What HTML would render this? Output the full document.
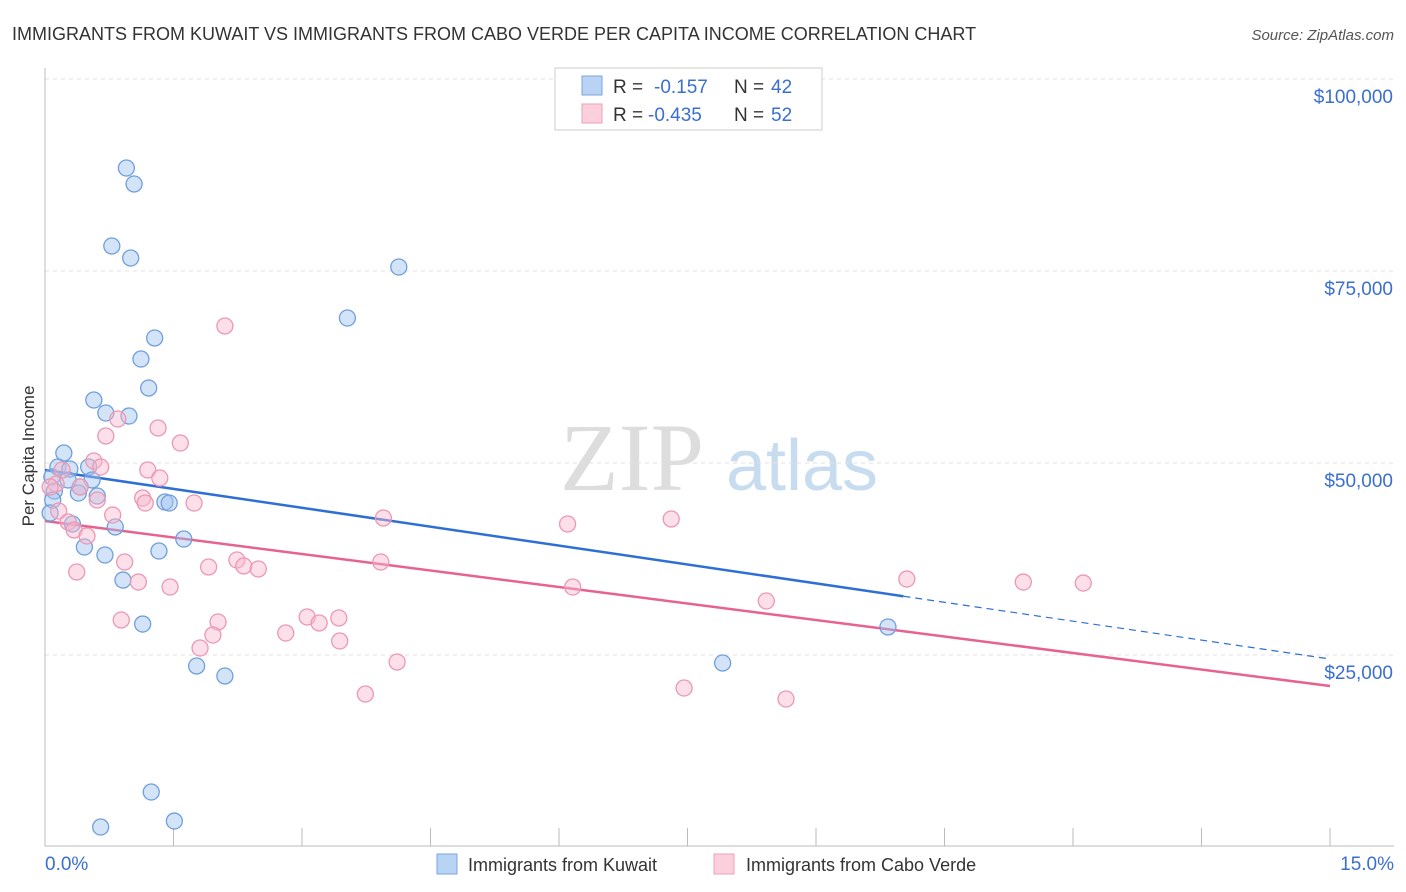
<!DOCTYPE html>
<html><head><meta charset="utf-8"><style>
body{margin:0;background:#fff;font-family:"Liberation Sans",sans-serif;}
svg{display:block}
</style></head><body>
<svg id="chart" width="1406" height="892">
<text x="12" y="40" font-size="18" fill="#333">IMMIGRANTS FROM KUWAIT VS IMMIGRANTS FROM CABO VERDE PER CAPITA INCOME CORRELATION CHART</text>
<text x="1394" y="40" font-size="15" fill="#555" font-style="italic" text-anchor="end">Source: ZipAtlas.com</text>
<text transform="translate(34,456) rotate(-90)" font-size="17" fill="#333" text-anchor="middle">Per Capita Income</text>
<g><text x="632" y="490" font-size="96" font-family="Liberation Serif,serif" fill="#ddd" text-anchor="middle">ZIP</text><text x="802" y="490" font-size="72" fill="#c8dcf0" text-anchor="middle">atlas</text></g>
<g id="grid"></g><g id="axes"></g><g id="lines"></g><g id="pts"></g>
<g>
<rect x="555" y="68" width="267" height="62" fill="#fff" stroke="#ccc"/>
<rect x="582" y="76" width="20" height="19" fill="#b9d3f5" stroke="#7aa6e0"/>
<rect x="582" y="104" width="20" height="19" fill="#fbcfdc" stroke="#eea0b8"/>
<text x="613" y="93" font-size="19" fill="#333">R = </text><text x="654" y="93" font-size="19" fill="#3a6fd0">-0.157</text>
<text x="734" y="93" font-size="19" fill="#333">N = </text><text x="771" y="93" font-size="19" fill="#3a6fd0">42</text>
<text x="613" y="121" font-size="19" fill="#333">R = </text><text x="648" y="121" font-size="19" fill="#3a6fd0">-0.435</text>
<text x="734" y="121" font-size="19" fill="#333">N = </text><text x="771" y="121" font-size="19" fill="#3a6fd0">52</text>
</g>
<g>
<rect x="437" y="854" width="20" height="20" fill="#b9d3f5" stroke="#7aa6e0"/>
<text x="468" y="871" font-size="18" fill="#333">Immigrants from Kuwait</text>
<rect x="714" y="854" width="20" height="20" fill="#fbcfdc" stroke="#eea0b8"/>
<text x="746" y="871" font-size="18" fill="#333">Immigrants from Cabo Verde</text>
</g>
</svg>
<script>
const xTickLabels=["0.0%","15.0%"];
const yTicks=[25000,50000,75000,100000];
const yTickLabels=["$25,000","$50,000","$75,000","$100,000"];
const kuwaitX=[0.95,1.04,0.78,1.00,4.13,3.53,1.28,1.12,1.21,0.57,0.71,0.98,0.22,0.15,0.51,0.29,0.08,0.27,0.55,0.41,0.11,0.61,0.39,1.40,1.45,0.09,0.06,0.32,0.82,1.62,0.46,1.33,0.70,0.91,1.14,9.84,1.77,2.10,7.91,1.24,0.65,1.51];
const kuwaitY=[88410,86330,78260,76690,75520,68880,66280,63540,59770,58200,56510,56120,51300,49480,49480,49220,48180,47790,47790,46880,46350,45700,46090,44920,44790,45180,43490,42060,41670,40100,39060,38540,38020,34760,29030,28650,23570,22270,23960,7160,2600,3380];
const caboX=[2.10,0.85,1.32,0.71,1.58,0.57,0.65,1.20,1.34,0.20,0.13,0.41,1.14,0.61,1.17,1.74,0.16,0.79,0.27,3.95,6.10,7.31,0.34,0.49,0.93,2.24,2.32,2.49,1.91,3.92,0.37,1.09,1.46,6.16,10.06,11.42,12.12,8.42,0.89,2.02,3.06,3.20,3.43,2.81,1.96,3.44,1.81,4.11,3.74,7.46,8.65,0.06];
const caboY=[67840,55730,54560,53520,52600,50260,49480,49090,48050,49090,47270,46880,45440,45180,44790,44790,43750,43230,42320,42840,42060,42710,41280,40490,37110,37370,36590,36200,36460,37110,35810,34500,33850,33850,34890,34500,34370,32030,29560,29300,29950,29170,29820,27860,27600,26820,25910,24090,19920,20700,19270,46880];
const kuwaitTrend=[49090,24480]; // value at 0% and 15%
const kuwaitSolidEnd=[10.02];
const caboTrend=[42450,20960];
const NS="http://www.w3.org/2000/svg";
const X=v=>45+v/15*1285;
const Y=v=>79+(100000-v)*192/25000;
function mk(t,a,p){const e=document.createElementNS(NS,t);for(const k in a)e.setAttribute(k,a[k]);p.appendChild(e);return e;}
const grid=document.getElementById('grid'),axes=document.getElementById('axes'),lines=document.getElementById('lines'),pts=document.getElementById('pts');
yTicks.forEach((v,i)=>{
 const l=mk('line',{x1:45,x2:1394,y1:Y(v),y2:Y(v),stroke:'#e2e2e2','stroke-dasharray':'4,4'},grid);
 
 
 const t=mk('text',{x:1393,y:Y(v)+24,'font-size':19,fill:'#3a6fd0','text-anchor':'end'},axes);
 t.textContent=yTickLabels[i];
 
 
});
const ax=mk('line',{x1:45,x2:45,y1:68,y2:846,stroke:'#bbb'},axes);


const bx=mk('line',{x1:45,x2:1394,y1:846,y2:846,stroke:'#bbb'},axes);


for(let i=0;i<=10;i++){const v=i*1.5;const tk=mk('line',{x1:X(v),x2:X(v),y1:828,y2:846,stroke:'#bbb'},axes);
 
 }
[[0,45,'start'],[15,1394,'end']].forEach((d,i)=>{const t=mk('text',{x:d[1],y:870,'font-size':19,fill:'#3a6fd0','text-anchor':d[2]},axes);t.textContent=xTickLabels[i];
 
 });
const ky=v=>kuwaitTrend[0]+(kuwaitTrend[1]-kuwaitTrend[0])*v/15;
const cy=v=>caboTrend[0]+(caboTrend[1]-caboTrend[0])*v/15;
let l1=mk('line',{x1:X(0),y1:Y(ky(0)),x2:X(kuwaitSolidEnd[0]),y2:Y(ky(kuwaitSolidEnd[0])),stroke:'#2e6fd6','stroke-width':2.5},lines);


let l2=mk('line',{x1:X(kuwaitSolidEnd[0]),y1:Y(ky(kuwaitSolidEnd[0])),x2:X(15),y2:Y(ky(15)),stroke:'#2e6fd6','stroke-width':1.2,'stroke-dasharray':'7,5'},lines);


let l3=mk('line',{x1:X(0),y1:Y(cy(0)),x2:X(15),y2:Y(cy(15)),stroke:'#e8628f','stroke-width':2.5},lines);


kuwaitX.forEach((v,i)=>{const c=mk('circle',{cx:X(v),cy:Y(kuwaitY[i]),r:8,fill:'rgba(160,195,240,0.45)',stroke:'#6f9fdc','stroke-width':1.3},pts);
 
 });
caboX.forEach((v,i)=>{const c=mk('circle',{cx:X(v),cy:Y(caboY[i]),r:8,fill:'rgba(248,185,205,0.45)',stroke:'#eb98b4','stroke-width':1.3},pts);
 
 });
</script>
</body></html>
